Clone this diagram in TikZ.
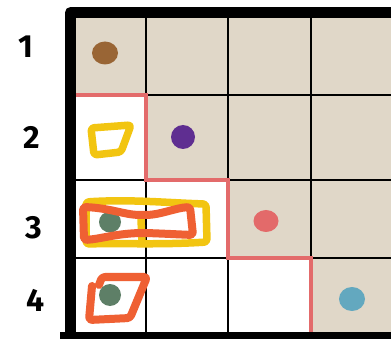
\documentclass[tikz,border=0pt]{standalone}
\usepackage{fontspec}
\setmainfont{Fira Sans}
\definecolor{tan}{HTML}{E0D7C8}
\definecolor{hlyellow}{HTML}{F2C511}
\definecolor{hlorange}{HTML}{EF6033}
\definecolor{stair}{HTML}{E36B6B}
\definecolor{dotbrown}{HTML}{996535}
\definecolor{dotpurple}{HTML}{5F2E91}
\definecolor{dotred}{HTML}{E36A6A}
\definecolor{dotblue}{HTML}{63A8BF}
\definecolor{dotgreen}{HTML}{5E7F67}
\tikzset{
  gridline/.style={line width=2.8pt, black},
  border/.style={line width=11pt, black, line join=round},
  stairline/.style={line width=4.6pt, stair},
  yellowmark/.style={line width=7.5pt, hlyellow, line join=round, line cap=round, rounded corners=3pt},
  orangemark/.style={line width=8pt, hlorange, line join=round, line cap=round, rounded corners=3pt},
  rowlabel/.style={font=\fontsize{32}{32}\selectfont\bfseries, text=black, inner sep=0pt},
}
\begin{document}
\begin{tikzpicture}[x=1pt,y=-1pt]
\useasboundingbox (0,0) rectangle (391,339);
\clip (0,0) rectangle (391,339);
% cell fills
\fill[tan] (70,12) rectangle (146,95);
\fill[tan] (146,12) rectangle (393,180);
\fill[tan] (228,180) rectangle (393,258);
\fill[tan] (311,258) rectangle (393,337);
\fill[white] (70,95) rectangle (146,337);
\fill[white] (146,180) rectangle (228,337);
\fill[white] (228,258) rectangle (311,337);
% grid lines
\foreach \x in {146,228,311} \draw[gridline] (\x,12) -- (\x,337);
\foreach \y in {95,180,258} \draw[gridline] (70,\y) -- (393,\y);
% outer border
\draw[border] (70.5,345) -- (70.5,12.5) -- (400,12.5);
\draw[border] (60,337.5) -- (400,337.5);
% staircase
\coordinate (s0) at (76,95);
\coordinate (s1) at (146,95);
\coordinate (s2) at (146,180);
\coordinate (s3) at (228,180);
\coordinate (s4) at (228,258);
\coordinate (s5) at (311,258);
\coordinate (s6) at (311,332);
\draw[stairline] (s0) -- (s1) -- (s2) -- (s3) -- (s4) -- (s5) -- (s6);
% dots
\fill[dotbrown] (105,53) ellipse [x radius=13, y radius=11.5];
\fill[dotpurple] (183,137) ellipse [x radius=12, y radius=12];
\fill[dotred] (266,221) ellipse [x radius=12.5, y radius=11];
\fill[dotblue] (352,299) ellipse [x radius=13, y radius=12];
\fill[dotgreen] (110,222) ellipse [x radius=11, y radius=10.5];
\fill[dotgreen] (110,295) ellipse [x radius=11, y radius=11];
% yellow marks
\draw[yellowmark] (91,128) -- (131,125) -- (121,152) -- (94,155) -- cycle;
\draw[yellowmark] (86,202) .. controls (130,199) and (170,203) .. (206,204) -- (207,242) .. controls (160,245) and (120,243) .. (86,244) -- cycle;
\draw[yellowmark] (141,219) -- (142,243);
% orange marks
\draw[orangemark] (83,207) .. controls (110,208) and (125,215) .. (143,215) .. controls (160,215) and (175,208) .. (190,207) -- (193,235) .. controls (170,234) and (150,233) .. (140,233) .. controls (115,234) and (100,239) .. (84,240) -- cycle;
\draw[orangemark] (92,286) -- (89,320) -- (130,318) -- (147,277) -- (102,277) -- (99,285);
% row labels
\node[rowlabel] (r1) at (26,47) {1};
\node[rowlabel] (r2) at (32,137) {2};
\node[rowlabel] (r3) at (34,228) {3};
\node[rowlabel] (r4) at (36,300) {4};
\end{tikzpicture}
\end{document}
